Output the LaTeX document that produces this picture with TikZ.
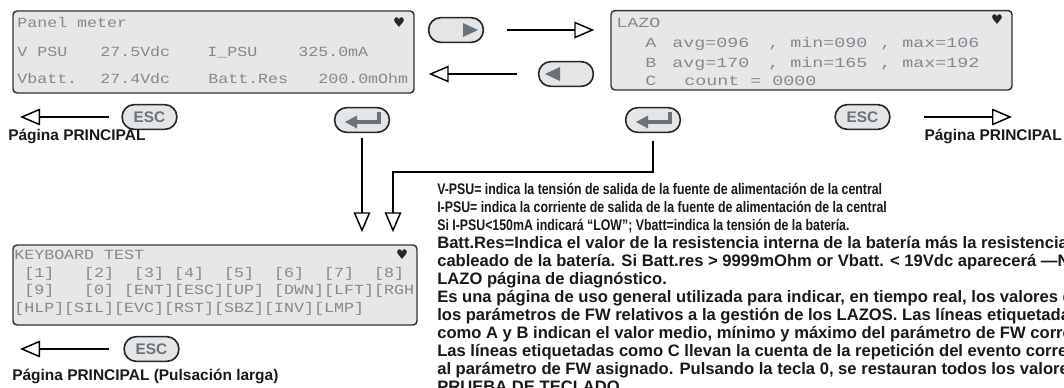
\documentclass[tikz,border=0pt]{standalone}
\usepackage{fontspec}
\setmainfont{Liberation Sans}
\newfontfamily\lcdfont[FakeStretch=1.19]{Liberation Mono}
\newfontfamily\lazofont[FakeStretch=1.31]{Liberation Mono}
\newfontfamily\narrowbold[FakeStretch=0.805]{Liberation Sans Bold}
\newfontfamily\symfont{DejaVu Sans}
\usetikzlibrary{arrows.meta,positioning}
\definecolor{lcdfill}{HTML}{E6E7E8}
\definecolor{lcdgray}{HTML}{85888B}
\definecolor{keyfill}{HTML}{E4E5E6}
\definecolor{keygray}{HTML}{6B737A}
\tikzset{
  lcdbox/.style={draw=black!80, fill=lcdfill, line width=1.1pt, rounded corners=3pt, inner sep=0pt},
  lcd/.style={anchor=base west, inner sep=0pt, text=lcdgray, font=\lcdfont\fontsize{10.5}{12}\selectfont},
  lcdwide/.style={lcd, font=\lazofont\fontsize{10.5}{12}\selectfont},
  beat/.style={inner sep=0pt, text=black!85, font=\symfont\fontsize{10}{10}\selectfont},
  keycap/.style={draw=black!85, fill=keyfill, line width=1.2pt, rounded corners=9pt, minimum width=41pt, minimum height=18.5pt, inner sep=0pt, text=keygray, font=\bfseries\fontsize{11.5}{12}\selectfont},
  keyicon/.style={keygray, line width=2.3pt},
  flow/.style={line width=1.1pt, -{Triangle[open, length=15pt, width=12.5pt, line width=1.1pt]}},
  caption/.style={anchor=base west, inner sep=0pt, text=black!90, font=\bfseries\fontsize{11.6}{14}\selectfont},
  note/.style={anchor=base west, inner sep=0pt, text=black!90, font=\bfseries\fontsize{12.45}{14}\selectfont},
  notenarrow/.style={note, font=\narrowbold\fontsize{11.5}{14}\selectfont}
}
\begin{document}
\begin{tikzpicture}[x=0.75pt, y=-0.75pt]
\useasboundingbox (0,0) rectangle (1064,387);
\clip (0,0) rectangle (1064,387);
\fill[white] (0,0) rectangle (1064,387);

% screens
\node[lcdbox, minimum width=300.75pt, minimum height=61.5pt] (panel) at (213.5,52) {};
\node[lcdbox, minimum width=300.75pt, minimum height=59.6pt] (lazo) at (811.5,50.25) {};
\node[lcdbox, minimum width=303pt, minimum height=60pt] (kbd) at (215,285) {};

% panel meter screen
\node[lcd] (pm0) at (17,27.9) {Panel meter};
\node[lcd] (pm1) at (17,56.6) {V PSU};
\node[lcd] (pm2) at (100,56.6) {27.5Vdc};
\node[lcd] (pm3) at (207,56.6) {I\_PSU};
\node[lcd] (pm4) at (298,56.6) {325.0mA};
\node[lcd] (pm5) at (17,83.6) {Vbatt.};
\node[lcd] (pm6) at (100,83.6) {27.4Vdc};
\node[lcd] (pm7) at (208,83.6) {Batt.Res};
\node[lcd] (pm8) at (318,83.6) {200.0mOhm};
\node[beat] (pmb) at (399,23) {♥};

% lazo screen
\node[lcdwide] (lz0) at (616,27.3) {LAZO};
\node[lcdwide] (lza) at (645,47.9) {A};
\node[lcdwide] (lza1) at (672,47.9) {avg=096};
\node[lcdwide] (lza2) at (768,47.9) {, min=090};
\node[lcdwide] (lza3) at (880,47.9) {, max=106};
\node[lcdwide] (lzb) at (645,67.9) {B};
\node[lcdwide] (lzb1) at (672,67.9) {avg=170};
\node[lcdwide] (lzb2) at (768,67.9) {, min=165};
\node[lcdwide] (lzb3) at (880,67.9) {, max=192};
\node[lcdwide] (lzc) at (645,85.6) {C};
\node[lcdwide] (lzc1) at (684,85.6) {count = 0000};
\node[beat] (lzbt) at (997,20) {♥};

% keyboard test screen
\begin{scope}
\clip (kbd.south west) rectangle (kbd.north east);
\node[lcd] (kb0) at (14,259.6) {KEYBOARD TEST};
\node[lcd] (kb1) at (14,277.6) {\ [1]\ \ \ [2]\ \ [3] [4]\ \ [5]\ \ [6]\ \ [7]\ \ [8]};
\node[lcd] (kb2) at (14,294.6) {\ [9]\ \ \ [0] [ENT][ESC][UP] [DWN][LFT][RGH]};
\node[lcd] (kb3) at (14,312.6) {[HLP][SIL][EVC][RST][SBZ][INV][LMP]};
\end{scope}
\node[beat] (kbbt) at (402,255) {♥};

% keys
\node[keycap] (bnext) at (456,30) {};
\node[keycap] (bprev) at (566,74) {};
\node[keycap] (esc1) at (149.5,117) {ESC};
\node[keycap] (ent1) at (362,120) {};
\node[keycap] (ent2) at (653,120) {};
\node[keycap] (esc2) at (862.5,117) {ESC};
\node[keycap] (esc3) at (151.5,349) {ESC};

\fill[keygray] (463,23) -- (478,30) -- (463,37) -- cycle;
\fill[keygray] (560,67) -- (545,74) -- (560,81) -- cycle;
\draw[keyicon] (379,112) -- (379,122) -- (355,122);
\fill[keygray] (345,122) -- (357,115.5) -- (357,128.5) -- cycle;
\draw[keyicon] (670,112) -- (670,122) -- (646,122);
\fill[keygray] (636,122) -- (648,115.5) -- (648,128.5) -- cycle;

% connectors
\coordinate (home1) at (20,117);
\coordinate (home2) at (1012,117);
\coordinate (home3) at (20,349);
\coordinate (bend) at (393,172);

\draw[flow, shorten <=17.25pt, shorten >=12pt] (bnext) -- (bnext -| lazo.west);
\draw[flow, shorten <=15.75pt, shorten >=10.5pt] (bprev) -- (bprev -| panel.east);
\draw[flow, shorten <=9pt] (esc1) -- (home1);
\draw[flow, shorten <=24.75pt] (esc2) -- (home2);
\draw[flow, shorten <=10.5pt] (esc3) -- (home3);
\draw[flow, shorten <=3.4pt, shorten >=9pt] (ent1) -- (ent1 |- kbd.north);
\draw[flow, shorten <=5.6pt, shorten >=9pt] (ent2) |- (bend) -- (bend |- kbd.north);

% captions
\node[caption] (main1) at (8,140.5) {Página PRINCIPAL};
\node[caption, anchor=base east] (main2) at (1062,140.5) {Página PRINCIPAL};
\node[caption] (main3) at (12,380.5) {Página PRINCIPAL (Pulsación larga)};

% notes
\node[notenarrow] (n1) at (437,194) {V-PSU= indica la tensión de salida de la fuente de alimentación de la central};
\node[notenarrow] (n2) at (437,212) {I-PSU= indica la corriente de salida de la fuente de alimentación de la central};
\node[notenarrow] (n3) at (437,230) {Si I-PSU<150mA indicará “LOW”; Vbatt=indica la tensión de la batería.};
\node[note] (n4) at (437,248) {Batt.Res=Indica el valor de la resistencia interna de la batería más la resistencia};
\node[note] (n5) at (437,266) {cableado de la batería. Si Batt.res > 9999mOhm or Vbatt. < 19Vdc aparecerá —N};
\node[note] (n6) at (437,284) {LAZO página de diagnóstico.};
\node[note] (n7) at (437,302) {Es una página de uso general utilizada para indicar, en tiempo real, los valores d};
\node[note] (n8) at (437,320) {los parámetros de FW relativos a la gestión de los LAZOS. Las líneas etiquetadas};
\node[note] (n9) at (437,338) {como A y B indican el valor medio, mínimo y máximo del parámetro de FW corre};
\node[note] (n10) at (437,356) {Las líneas etiquetadas como C llevan la cuenta de la repetición del evento corre};
\node[note] (n11) at (437,374) {al parámetro de FW asignado. Pulsando la tecla 0, se restauran todos los valores};
\node[note] (n12) at (437,392) {PRUEBA DE TECLADO};
\end{tikzpicture}
\end{document}
